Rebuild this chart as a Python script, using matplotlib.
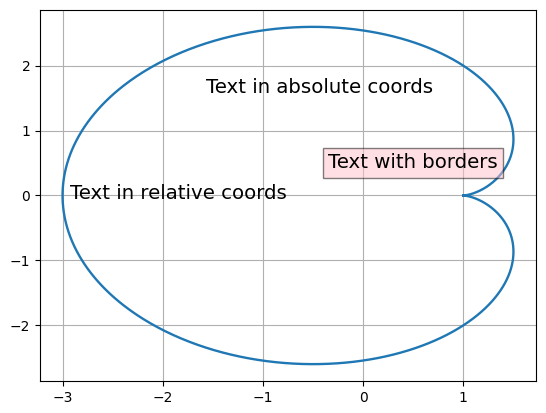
import numpy as np
import matplotlib
matplotlib.use("Agg")
import matplotlib.pyplot as plt

# cardioid: x = 2cos(t) - cos(2t), y = 2sin(t) - sin(2t)
t = np.linspace(0, 2 * np.pi, 1000)
x = 2 * np.cos(t) - np.cos(2 * t)
y = 2 * np.sin(t) - np.sin(2 * t)

labels = ["Text in absolute coords", "Text with borders", "Text in relative coords"]

fig = plt.figure(figsize=(5.46, 4.13), dpi=100)
ax = fig.add_axes([40 / 546, 32 / 413, 496 / 546, 371 / 413])
ax.plot(x, y, color="#1f77b4", linewidth=1.7)
ax.grid(True)

ax.text(-1.57, 1.58, labels[0], fontsize=14.25)
ax.text(-0.35, 0.42, labels[1], fontsize=14.25,
        bbox=dict(facecolor="pink", alpha=0.5))
ax.text(0.06, 0.505, labels[2], fontsize=14.25, va="center",
        transform=ax.transAxes)

fig.savefig("out.png", dpi=100)
